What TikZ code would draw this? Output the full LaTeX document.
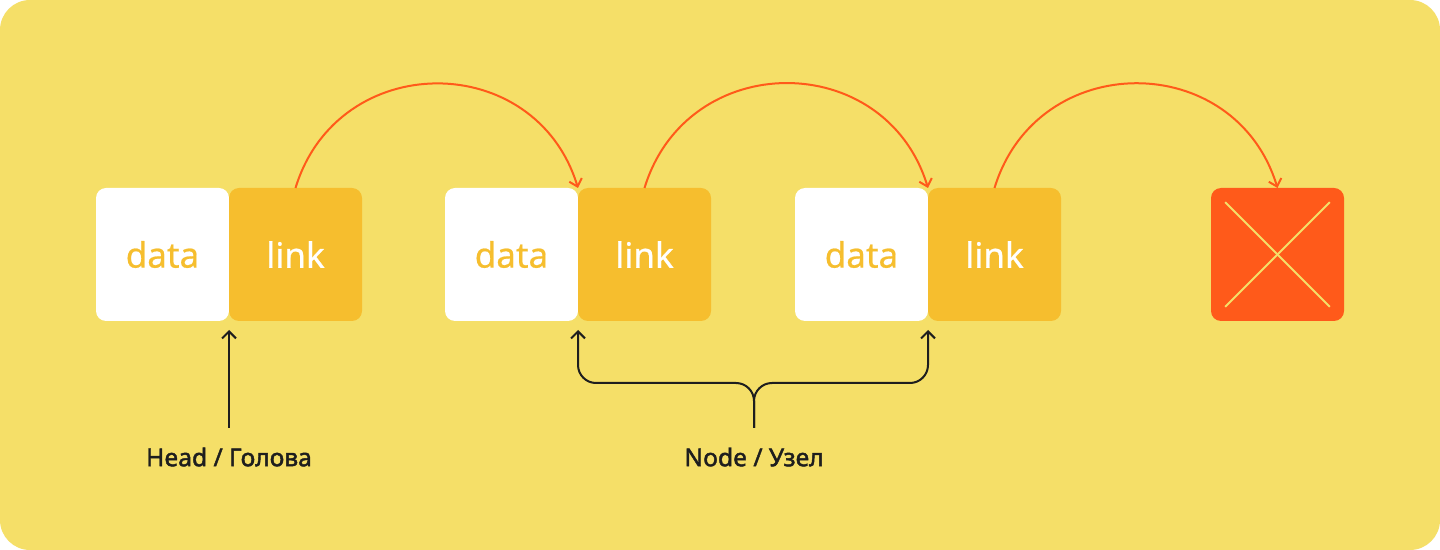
\documentclass[tikz,border=0pt]{standalone}
\usepackage{fontspec}
\setmainfont{Noto Sans}
\newfontfamily\cellfont{Noto Sans}[FakeBold=0.6]
\newfontfamily\capfont{Noto Sans}[FakeBold=1.8]
\usetikzlibrary{positioning,arrows.meta}

\definecolor{bgyellow}{HTML}{F5DF68}
\definecolor{linkyellow}{HTML}{F6BE2E}
\definecolor{nullorange}{HTML}{FF5A1A}
\definecolor{inkdark}{HTML}{1E1E1E}

\tikzset{
  cell/.style={minimum width=66.5pt,minimum height=66.5pt,inner sep=0pt,outer sep=0pt,
    rounded corners=5pt,font=\cellfont\fontsize{17.5}{20}\selectfont},
  datacell/.style={cell,fill=white,text=linkyellow},
  linkcell/.style={cell,fill=linkyellow,text=white},
  nullcell/.style={cell,fill=nullorange},
  jump/.style={draw=nullorange,line width=1pt,-{Straight Barb[length=3.5pt,width=6.5pt]}},
  pointer/.style={draw=inkdark,line width=1pt,-{Straight Barb[length=3.5pt,width=7pt]}},
  caption/.style={text=inkdark,font=\capfont\bfseries\fontsize{12.3}{14}\selectfont}
}

\begin{document}
\begin{tikzpicture}[x=0.5pt,y=-0.5pt]
	% background
	\fill[white] (0,0) rectangle (1440,550);
	\fill[bgyellow,rounded corners=15pt] (0,0) rectangle (1440,550);

	% list nodes
	\node[datacell] (data1) at (162.5,254.5) {data};
	\node[linkcell,right=0pt of data1] (link1) {link};
	\node[datacell] (data2) at (511.5,254.5) {data};
	\node[linkcell,right=0pt of data2] (link2) {link};
	\node[datacell] (data3) at (861.5,254.5) {data};
	\node[linkcell,right=0pt of data3] (link3) {link};
	\node[nullcell] (null) at (1277.5,254.5) {};
	\draw[bgyellow,line width=1pt,shorten <=10pt,shorten >=10pt] (null.north west) -- (null.south east);
	\draw[bgyellow,line width=1pt,shorten <=10pt,shorten >=10pt] (null.north east) -- (null.south west);

	% links
	\draw[jump] (link1.north) to[out=73,in=107,looseness=1.32] (data2.north east);
	\draw[jump] (link2.north) to[out=73,in=107,looseness=1.32] (data3.north east);
	\draw[jump] (link3.north) to[out=73,in=107,looseness=1.32] (null.north);

	% captions
	\node[caption] (headlbl) at (229,457) {Head / Голова};
	\node[caption] (nodelbl) at (754,457) {Node / Узел};
	\coordinate (headtail) at (229,428);
	\coordinate (nodestem) at (754,428);
	\coordinate (nodebar) at (754,383);
	\draw[pointer,shorten >=4.5pt] (headtail) -- (data1.south east);
	\draw[pointer,rounded corners=9pt,shorten >=4.5pt] (nodestem) -- (nodebar) -| (data2.south east);
	\draw[pointer,rounded corners=9pt,shorten >=4.5pt] (nodestem) -- (nodebar) -| (data3.south east);
\end{tikzpicture}
\end{document}
